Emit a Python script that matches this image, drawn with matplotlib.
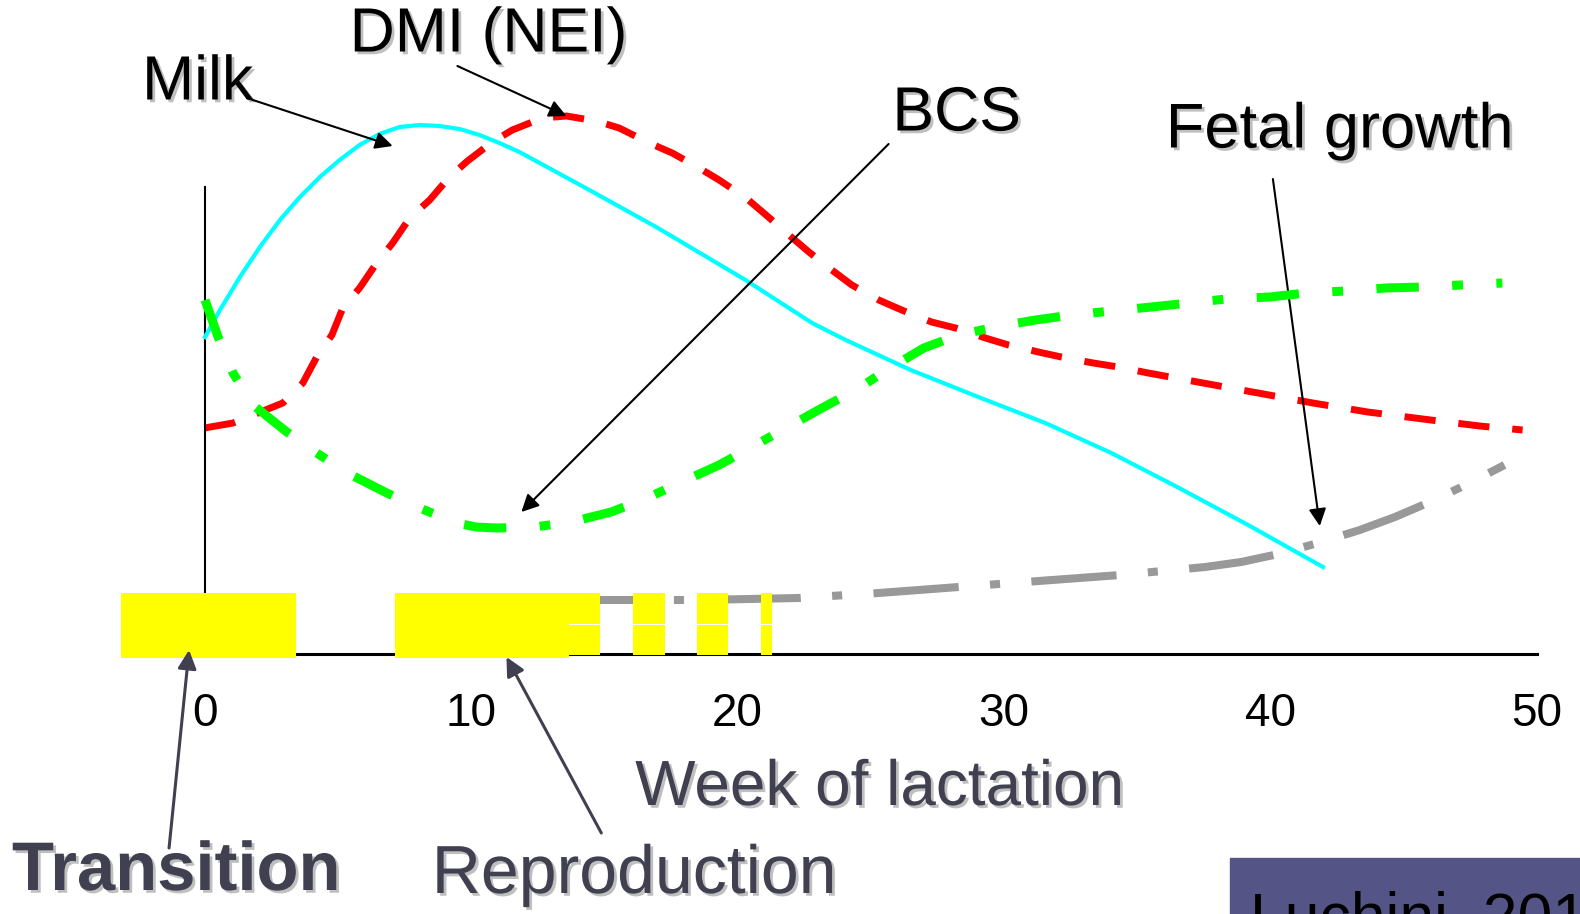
import matplotlib
matplotlib.use("Agg")
import matplotlib.pyplot as plt
import matplotlib.patheffects as pe
from matplotlib.patches import Rectangle

plt.rcParams['font.family'] = ['Liberation Sans', 'DejaVu Sans']

# x = week of lactation, y = relative level (schematic)
milk_w = [0.02, 0.58, 1.33, 2.08, 2.83, 3.58, 4.33, 5.07, 5.82, 6.57, 7.32, 8.07, 8.82,
          9.57, 10.32, 11.07, 11.82, 14.44, 16.95, 20.3, 22.8, 24.06, 26.5, 29.04, 31.55,
          34.03, 36.5, 39.16, 41.97]
milk_y = [317, 344, 377, 407, 434, 457, 477, 494, 509, 520, 527, 529, 528,
          525, 519, 511, 502, 464, 427, 374, 331, 314, 284, 257, 231,
          201, 167, 129, 87]

dmi_w = [0.0, 1.07, 2.94, 3.69, 4.21, 4.78, 5.19, 5.82, 6.46, 7.06, 7.7, 8.45, 9.19, 9.87,
         10.8, 11.55, 12.68, 13.58, 14.7, 15.56, 16.69, 17.55, 18.56, 19.31, 20.32, 21.07,
         21.93, 22.68, 23.54, 24.29, 25.3, 26.16, 27.28, 28.18, 29.3, 30.17, 31.29, 32.15,
         33.35, 34.29, 35.41, 37.47, 39.53, 41.59, 43.65, 45.71, 47.85, 49.46]
dmi_y = [226, 231, 251, 271, 297, 319, 346, 366, 391, 411, 436, 454, 477, 493,
         512, 524, 536, 538, 533, 526, 511, 501, 486, 474, 456, 439,
         419, 402, 384, 369, 354, 344, 332, 326, 316, 309, 302, 297,
         291, 287, 281, 271, 261, 251, 242, 235, 228, 224]

bcs_w = [0.02, 0.51, 1.07, 1.82, 3.09, 4.21, 5.37, 6.84, 8.07, 9.46, 10.2, 10.96, 12.38,
         13.76, 15.26, 16.61, 18.07, 19.31, 20.54, 21.82, 23.17, 24.44, 25.6, 26.99, 28.3,
         29.68, 31.18, 32.53, 34.03, 35.52, 36.95, 38.33, 39.98, 41.33, 42.79, 44.32,
         45.71, 47.13, 48.7]
bcs_y = [354, 317, 281, 249, 222, 201, 181, 161, 146, 131, 127, 126, 127,
         132, 142, 156, 174, 189, 207, 226, 246, 264, 284, 306, 319,
         327, 334, 339, 343, 347, 351, 355, 357, 361, 363, 366,
         367, 369, 371]

fetal_w = [14.44, 18.56, 22.3, 25.3, 28.3, 31.3, 34.36, 37.55, 38.9, 40.3, 41.78, 43.35,
           44.67, 45.98, 47.4, 48.78]
fetal_y = [54, 54, 56, 61, 67, 73, 79, 87, 92, 100, 111, 124, 137, 152, 170, 189]

# yellow blocks on the time axis (start week, end week)
big_start = [-3.13, 7.14]
big_end = [3.43, 13.69]
small_start = [13.3, 16.09, 18.48, 20.88]
small_end = [14.85, 17.28, 19.64, 21.29]

week_ticks = [0, 10, 20, 30, 40, 50]

fig = plt.figure(figsize=(15.8, 9.14), dpi=100)
ax = fig.add_axes([204.5 / 1580, (914 - 654) / 914, (1537 - 204.5) / 1580, (654 - 187) / 914])
ax.set_xlim(0, 49.9)
ax.set_ylim(0, 467)
for s in ['top', 'right']:
    ax.spines[s].set_visible(False)
ax.spines['left'].set_linewidth(1.5)
ax.spines['bottom'].set_linewidth(2.2)
ax.set_yticks([])
ax.set_xticks(week_ticks)
ax.tick_params(axis='x', length=0, pad=27, labelsize=33)

ax.plot(fetal_w, fetal_y, color='#999999', lw=5.8, ls=(4, (10.6, 3.9, 1.25, 3.9)),
        clip_on=False, zorder=1)
ax.plot(dmi_w, dmi_y, color='#ff0000', lw=5.0, ls=(0, (4.5, 3.3)), clip_on=False, zorder=2)
ax.plot(milk_w, milk_y, color='#00ffff', lw=3.0, clip_on=False, zorder=3)
ax.plot(bcs_w, bcs_y, color='#00ff00', lw=6.5, ls=(0, (4.7, 3.7, 1.2, 3.7)),
        clip_on=False, zorder=4)

# yellow blocks
big_w = [e - s for s, e in zip(big_start, big_end)]
small_w = [e - s for s, e in zip(small_start, small_end)]
ax.bar(big_start, [65] * len(big_start), width=big_w, bottom=-4, align='edge',
       color='#ffff00', lw=0, zorder=5, clip_on=False)
ax.bar(small_start, [30] * len(small_start), width=small_w, bottom=-1, align='edge',
       color='#ffff00', lw=0, zorder=5, clip_on=False)
ax.bar(small_start, [31] * len(small_start), width=small_w, bottom=30, align='edge',
       color='#ffff00', lw=0, zorder=5, clip_on=False)

shadow = [pe.withSimplePatchShadow(offset=(2, -2), shadow_rgbFace='black', alpha=0.25)]
slate = '#404050'

ax.text(-0.26, 571, 'Milk', fontsize=45, ha='center', va='center', path_effects=shadow)
ax.text(10.65, 619, 'DMI (NEI)', fontsize=45, ha='center', va='center', path_effects=shadow)
ax.text(28.22, 540, 'BCS', fontsize=45, ha='center', va='center', path_effects=shadow)
ax.text(42.6, 523, 'Fetal growth', fontsize=45.5, ha='center', va='center', path_effects=shadow)
ax.text(25.33, -134, 'Week of lactation', fontsize=46, ha='center', va='center',
        color=slate, path_effects=shadow)
ax.text(-1.07, -218, 'Transition', fontsize=49.5, fontweight='bold', ha='center', va='center',
        color=slate, path_effects=shadow)
ax.text(16.12, -221, 'Reproduction', fontsize=49, ha='center', va='center',
        color=slate, path_effects=shadow)

arrow_k = dict(arrowstyle='-|>', color='black', lw=1.5, mutation_scale=26, shrinkA=0, shrinkB=0)
arrow_s = dict(arrowstyle='-|>', color=slate, lw=2.2, mutation_scale=28, shrinkA=0, shrinkB=0)
ax.annotate('', xy=(7.06, 508), xytext=(1.59, 556), arrowprops=arrow_k, annotation_clip=False)
ax.annotate('', xy=(13.58, 538), xytext=(9.49, 588), arrowprops=arrow_k, annotation_clip=False)
ax.annotate('', xy=(11.89, 142), xytext=(25.67, 510), arrowprops=arrow_k, annotation_clip=False)
ax.annotate('', xy=(41.85, 128), xytext=(40.09, 475), arrowprops=arrow_k, annotation_clip=False)
ax.annotate('', xy=(-0.58, 4), xytext=(-1.33, -194), arrowprops=arrow_s,
            annotation_clip=False).set_zorder(6)
ax.annotate('', xy=(11.33, -3), xytext=(14.89, -179), arrowprops=arrow_s,
            annotation_clip=False).set_zorder(6)

# citation box, bottom right (cut by the figure edge, as in the source slide)
fig.patches.append(Rectangle((1230 / 1580, 0), 350 / 1580, 56 / 914, transform=fig.transFigure,
                             color='#545486', zorder=0))
fig.text(1250 / 1580, (914 - 937) / 914, 'Luchini, 201', fontsize=45, va='baseline', color='black')

fig.savefig('out.png', dpi=100)
